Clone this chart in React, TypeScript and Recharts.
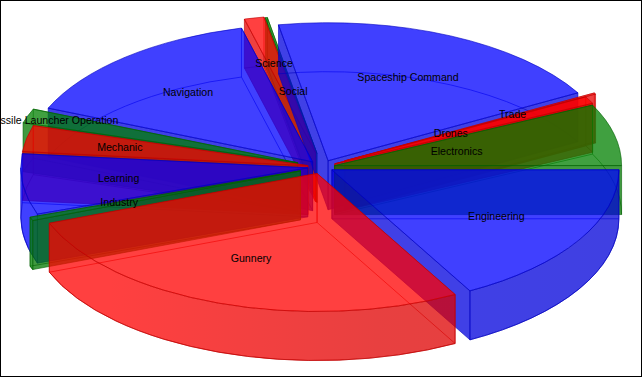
import { PieChart, Pie } from 'recharts';

const W = 642;
const H = 377;

// in alphabetical order the way the source lists them
const skills = ['Drones', 'Electronics', 'Engineering', 'Gunnery', 'Industry', 'Learning', 'Mechanic', 'Missile Launcher Operation', 'Navigation', 'Science', 'Social', 'Spaceship Command', 'Trade'];
const points = [3, 26, 61.3, 97.7, 1.5, 25.5, 11, 6, 52.8, 4, 0.4, 70.5, 0.5];

// how far each slice is pulled out, and where its label sits, as fraction of the radius
const explode = [0.05, 0.045, 0.04, 0.05, 0.08, 0.05, 0.05, 0.09, 0.05, 0.105, 0.1, 0.05, 0.09];
const labelAt = [0.51, 0.485, 0.71, 0.71, 0.75, 0.71, 0.715, 0.99, 0.71, 0.765, 0.55, 0.71, 0.765];

const palette = ['#ff0000', '#008000', '#0000ff'];
const edges = ['#c00000', '#006000', '#0000c0'];
const walls = ['url(#wallRed)', 'url(#wallGreen)', 'url(#wallBlue)'];
const faces = ['#e80000', '#007800', '#0000dd'];

const FILL_OPACITY = 0.75;
const TILT = 0.481;
const DEPTH = 49;

const table = skills.map((name, i) => ({ name, value: points[i] }));

// back slices first so the front ones lie on top
const paintOrder = [...skills.keys()].sort((a, b) => midSin(a) - midSin(b));

function midSin(i: number) {
  const total = points.reduce((s, v) => s + v, 0);
  let start = -29;
  for (let k = 0; k < i; k++) start += (points[k] / total) * 360;
  return Math.sin(((start + (points[i] / total) * 180) * Math.PI) / 180);
}

const rad = (d: number) => (d * Math.PI) / 180;

function Slice(props: any, index: number) {
  const { cx, cy, outerRadius: rx, startAngle, endAngle } = props;
  const ry = rx * TILT;
  // recharts angles run anticlockwise, the drawing below uses screen angles
  const a1 = -startAngle;
  const a2 = -endAngle;
  const mid = (a1 + a2) / 2;
  const e = explode[index];
  const ox = cx + e * rx * Math.cos(rad(mid));
  const oy = cy + e * ry * Math.sin(rad(mid));
  const pt = (a: number, dy = 0) => `${ox + rx * Math.cos(rad(a))} ${oy + ry * Math.sin(rad(a)) + dy}`;
  const arc = (from: number, to: number, dy = 0) => `A ${rx} ${ry} 0 ${to - from > 180 ? 1 : 0} 1 ${pt(to, dy)}`;
  const c = index % 3;
  const common = { stroke: edges[c], strokeOpacity: 0.6, strokeWidth: 1, fillOpacity: FILL_OPACITY };
  const apex = `${ox} ${oy}`;
  const apexLow = `${ox} ${oy + DEPTH}`;

  // only the stretch of rim that faces the viewer gets a filled wall
  const k = Math.floor(a1 / 360);
  const lo = Math.max(a1, k * 360);
  const hi = Math.min(a2, k * 360 + 180);
  const lo2 = Math.max(a1, (k + 1) * 360);
  const hi2 = Math.min(a2, (k + 1) * 360 + 180);
  const front = hi > lo ? [lo, hi] : hi2 > lo2 ? [lo2, hi2] : null;

  // cut faces turned away from the viewer are just outlines
  const startShows = Math.cos(rad(a1)) < 0;
  const endShows = Math.cos(rad(a2)) > 0;

  return (
    <g>
      <path
        d={`M ${apex} L ${pt(a1)} L ${pt(a1, DEPTH)} L ${apexLow} Z`}
        fill={startShows ? faces[c] : 'none'}
        {...common}
      />
      <path
        d={`M ${apex} L ${pt(a2)} L ${pt(a2, DEPTH)} L ${apexLow} Z`}
        fill={endShows ? faces[c] : 'none'}
        {...common}
      />
      {front && (
        <path
          d={`M ${pt(front[0])} ${arc(front[0], front[1])} L ${pt(front[1], DEPTH)} A ${rx} ${ry} 0 0 0 ${pt(front[0], DEPTH)} Z`}
          fill={walls[c]}
          {...common}
        />
      )}
      <path d={`M ${pt(a1, DEPTH)} ${arc(a1, a2, DEPTH)}`} fill="none" stroke={edges[c]} strokeOpacity={0.6} />
      <path d={`M ${apex} L ${pt(a1)} ${arc(a1, a2)} Z`} fill={palette[c]} {...common} />
    </g>
  );
}

function SliceLabel(props: any) {
  const { cx, cy, outerRadius: rx, midAngle, index } = props;
  const f = labelAt[index];
  const x = cx + f * rx * Math.cos(rad(midAngle)) - 1;
  const y = cy - f * rx * TILT * Math.sin(rad(midAngle)) - 1;
  return (
    <text x={x} y={y} textAnchor="middle" dominantBaseline="central" fill="#000" fontSize={10.6} fontFamily="Liberation Sans">
      {skills[index]}
    </text>
  );
}

function wallGradient(id: string, full: string, half: string, dark: string) {
  return (
    <linearGradient id={id} gradientUnits="userSpaceOnUse" x1={20} y1={0} x2={620} y2={0}>
      <stop offset="0%" stopColor={full} />
      <stop offset="15%" stopColor={full} />
      <stop offset="60%" stopColor={half} />
      <stop offset="100%" stopColor={dark} />
    </linearGradient>
  );
}

const pieBase = {
  data: table,
  dataKey: 'value',
  nameKey: 'name',
  cx: 322,
  cy: 167,
  outerRadius: 287,
  startAngle: 29,
  endAngle: -331,
  isAnimationActive: false,
};

export default function App() {
  return (
    <div
      style={{
        position: 'fixed',
        left: 0,
        top: 0,
        width: W,
        height: H,
        boxSizing: 'border-box',
        border: '1px solid #000',
        background: '#fff',
        overflow: 'hidden',
      }}
    >
      <div style={{ position: 'absolute', left: -1, top: -1 }}>
        <PieChart width={W} height={H} margin={{ top: 0, right: 0, bottom: 0, left: 0 }}>
          <defs>
            {wallGradient('wallRed', '#ff0000', '#e00000', '#d80000')}
            {wallGradient('wallGreen', '#008000', '#007000', '#006800')}
            {wallGradient('wallBlue', '#0000ff', '#0000e0', '#0000d8')}
          </defs>
          {paintOrder.map((i) => (
            <Pie
              key={skills[i]}
              {...pieBase}
              shape={(p: any) => (p.name === skills[i] ? Slice(p, i) : <g />)}
            />
          ))}
          <Pie {...pieBase} fill="none" stroke="none" labelLine={false} label={SliceLabel} />
        </PieChart>
      </div>
    </div>
  );
}
